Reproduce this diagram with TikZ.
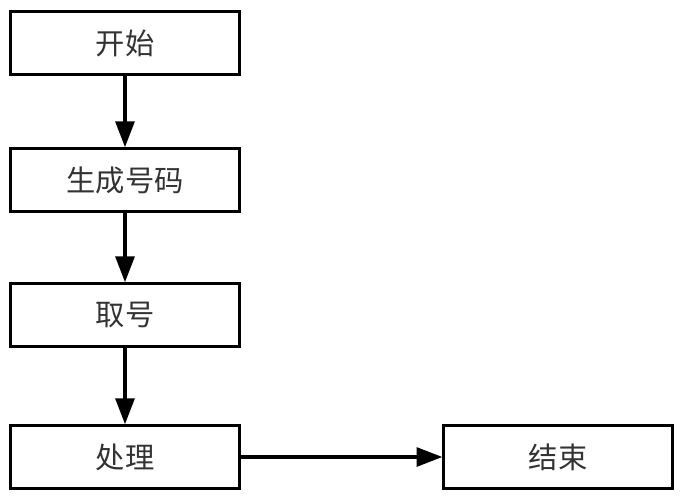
\documentclass[tikz,border=0pt]{standalone}
\usepackage{fontspec}
\newfontfamily\cjk{Noto Sans CJK SC}
\usetikzlibrary{arrows.meta}
\begin{document}
\begin{tikzpicture}
        [x=0.03cm,y=-0.03cm,every node/.style={rectangle,draw,line width=2.4pt,minimum width=6.85cm,minimum height=1.88cm,font=\cjk\fontsize{25}{30}\selectfont,text=black!80},
        every edge/.style={draw,line width=3pt,-{Triangle[length=22pt,width=16pt]}}]
        \useasboundingbox (0,0) rectangle (684,500);
        % left column
        \node  (Start)   at      (125,43)     {开始};
        \node  (Gen)     at      (125,180)    {生成号码};
        \node  (Take)    at      (125,315)    {取号};
        \node  (Proc)    at      (125,457)    {处理};

        % right
        \node  (End)     at      (558,457)    {结束};

        \draw
        (Start)     edge        (Gen)
        (Gen)       edge        (Take)
        (Take)      edge        (Proc)
        (Proc)      edge        (End);
    \end{tikzpicture}
\end{document}
